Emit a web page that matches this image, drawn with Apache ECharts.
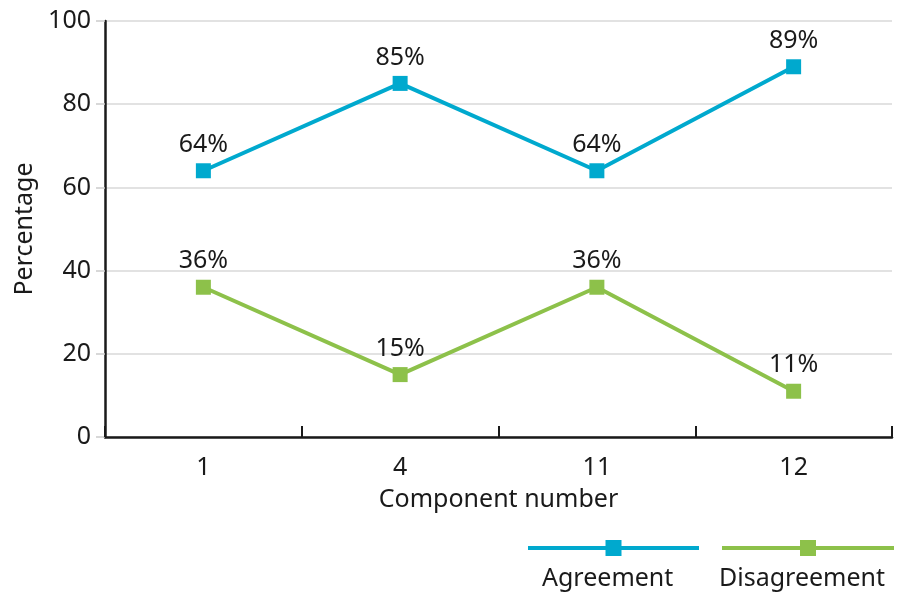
<!DOCTYPE html>
<html>
<head>
<meta charset="utf-8">
<script src="https://cdn.jsdelivr.net/npm/echarts@6/dist/echarts.min.js"></script>
<style>
  html, body { margin: 0; padding: 0; background: #fff; }
  #chart { width: 909px; height: 593px; }
</style>
</head>
<body>
<div id="chart"></div>
<script>
  // data
  var categories = ['1', '4', '11', '12'];
  var agreement = [64, 85, 64, 89];
  var disagreement = [36, 15, 36, 11];
  var seriesNames = ['Agreement', 'Disagreement'];

  var font = 'Noto Sans';
  var blue = '#00A9CE';
  var green = '#8DC14A';
  var fs = 25;

  var myChart = echarts.init(document.getElementById('chart'), null, { renderer: 'canvas' });

  function lineSeries(name, data, color) {
    return {
      name: name,
      type: 'line',
      data: data,
      symbol: 'rect',
      symbolSize: 15,
      lineStyle: { color: color, width: 4 },
      itemStyle: { color: color },
      label: {
        show: true,
        position: 'top',
        distance: 6,
        formatter: '{c}%',
        color: '#1a1a1a',
        fontFamily: font,
        fontSize: fs
      },
      z: 3
    };
  }

  var option = {
    animation: false,
    textStyle: { fontFamily: font },
    grid: { left: 105, right: 17, top: 21, bottom: 156, containLabel: false, outerBoundsMode: 'none' },
    legend: [
      {
        data: [seriesNames[0]],
        left: 526, top: 538, padding: 0,
        itemWidth: 171, itemHeight: 20,
        lineStyle: { width: 4 },
        formatter: function () { return ''; }
      },
      {
        data: [seriesNames[1]],
        left: 720, top: 538, padding: 0,
        itemWidth: 172, itemHeight: 20,
        lineStyle: { width: 4 },
        formatter: function () { return ''; }
      }
    ],
    graphic: [
      { type: 'text', left: 542, top: 566, style: { text: seriesNames[0], fontFamily: font, fontSize: fs, fill: '#1a1a1a' } },
      { type: 'text', left: 719, top: 566, style: { text: seriesNames[1], fontFamily: font, fontSize: fs, fill: '#1a1a1a' } }
    ],
    xAxis: {
      type: 'category',
      data: categories,
      boundaryGap: true,
      name: 'Component number',
      nameLocation: 'middle',
      nameGap: 50,
      nameTextStyle: { fontFamily: font, fontSize: fs, color: '#1a1a1a' },
      axisLine: { lineStyle: { color: '#1a1a1a', width: 2.5 } },
      axisTick: { show: true, inside: true, length: 11, lineStyle: { color: '#1a1a1a', width: 2 } },
      axisLabel: { margin: 18, fontFamily: font, fontSize: fs, color: '#1a1a1a' }
    },
    yAxis: {
      type: 'value',
      min: 0, max: 100, interval: 20,
      name: 'Percentage',
      nameLocation: 'middle',
      nameGap: 66,
      nameTextStyle: { fontFamily: font, fontSize: fs, color: '#1a1a1a' },
      axisLine: { show: true, lineStyle: { color: '#1a1a1a', width: 2.5 } },
      axisTick: { show: true, length: 9, lineStyle: { color: '#cccccc', width: 1.5 } },
      axisLabel: { margin: 14, fontFamily: font, fontSize: fs, color: '#1a1a1a' },
      splitLine: { lineStyle: { color: '#d9d9d9', width: 1.5 } }
    },
    series: [
      lineSeries(seriesNames[0], agreement, blue),
      lineSeries(seriesNames[1], disagreement, green)
    ]
  };

  myChart.setOption(option);
</script>
</body>
</html>
